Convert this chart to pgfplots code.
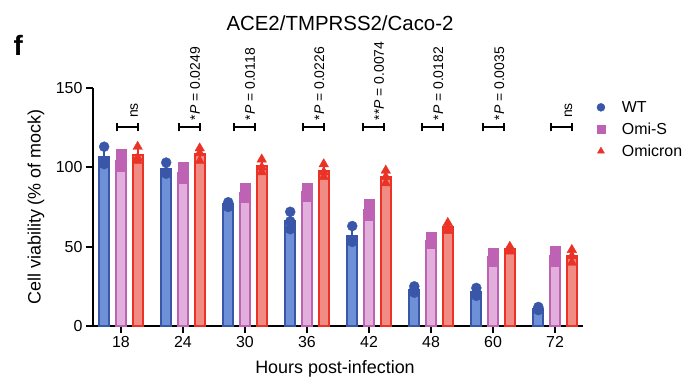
\documentclass[border=0pt]{standalone}
\usepackage{fontspec}
\setmainfont{Liberation Sans}
\usepackage{pgfplots}
\pgfplotsset{compat=1.18}
\definecolor{wtD}{HTML}{3A56A8}
\definecolor{wtL}{HTML}{6E90D6}
\definecolor{osD}{HTML}{BE62B4}
\definecolor{osL}{HTML}{E2AEDC}
\definecolor{omD}{HTML}{EA3326}
\definecolor{omL}{HTML}{F08C84}
\newcommand\brk[4]{%
  \draw[line width=2bp] (axis cs:#1,125.4) -- (axis cs:#2,125.4);
  \draw[line width=2bp] (axis cs:#1,122.6) -- (axis cs:#1,128.2);
  \draw[line width=2bp] (axis cs:#2,122.6) -- (axis cs:#2,128.2);
  \node[rotate=90, anchor=base west, inner sep=0pt, font=\fontsize{14}{16}\selectfont]
    at (axis cs:#2,#3) {#4};}
\begin{document}
\begin{tikzpicture}[x=1bp,y=1bp]
\path[use as bounding box] (0,0) rectangle (697,380);
\node[anchor=base west, font=\bfseries\fontsize{28}{30}\selectfont] at (10,325) {f};
\node[font=\fontsize{20.5}{22}\selectfont] at (340,357) {ACE2/TMPRSS2/Caco-2};
\node[font=\fontsize{18}{20}\selectfont] at (335,11) {Hours post-infection};
\node[rotate=90, font=\fontsize{18}{20}\selectfont] at (36,173) {Cell viability (\% of mock)};
\begin{axis}[
  at={(93bp,54bp)}, anchor=south west,
  scale only axis, width=490bp, height=238bp,
  xmin=-0.45, xmax=7.45, ymin=0, ymax=150,
  axis x line*=bottom, axis y line*=left,
  axis line style={line width=2bp, black},
  xtick={0,1,2,3,4,5,6,7},
  xticklabels={18,24,30,36,42,48,60,72},
  ytick={0,50,100,150},
  tick align=outside, major tick length=7bp,
  tick style={line width=2bp, black},
  tick label style={font=\fontsize{16}{18}\selectfont},
  /pgf/number format/assume math mode=true,
  clip=false,
  legend style={at={(1.026,0.95)}, anchor=north west, draw=none, fill=none,
    font=\fontsize{16}{18}\selectfont, row sep=7bp, inner sep=0pt,
    nodes={inner sep=1bp}},
  legend cell align=left,
  legend image code/.code={\path[draw=none, fill=none] (-5bp,0bp) rectangle (20bp,0bp);
     \draw[#1, mark size=4bp] plot coordinates {(0bp,0bp)};},
]
% bars (means)
\addplot[ybar, bar width=10bp, bar shift=0pt, draw=wtD, fill=wtL, line width=1.8bp, forget plot,
  error bars/.cd, y dir=both, y explicit, error bar style={line width=1.8bp, wtD}]
  coordinates {(-0.27,106.3) +- (0,5.9) (0.73,98.7) +- (0,3.8) (1.73,76.7) +- (0,1.5) (2.73,66.3) +- (0,5.5)
               (3.73,56.7) +- (0,5.5) (4.73,23) +- (0,2) (5.73,21.3) +- (0,2.5) (6.73,11) +- (0,1)};
\addplot[ybar, bar width=10bp, bar shift=0pt, draw=osD, fill=osL, line width=1.8bp, forget plot,
  error bars/.cd, y dir=both, y explicit, error bar style={line width=1.8bp, osD}]
  coordinates {(0,104.3) +- (0,3.5) (1,96.3) +- (0,3.5) (2,84) +- (0,3) (3,84.7) +- (0,2.5)
               (4,73.3) +- (0,3.5) (5,53.7) +- (0,2) (6,43.7) +- (0,2.5) (7,44.3) +- (0,3)};
\addplot[ybar, bar width=10bp, bar shift=0pt, draw=omD, fill=omL, line width=1.8bp, forget plot,
  error bars/.cd, y dir=both, y explicit, error bar style={line width=1.8bp, omD}]
  coordinates {(0.27,107.7) +- (0,4.7) (1.27,108.3) +- (0,4) (2.27,100.7) +- (0,4) (3.27,97.7) +- (0,4)
               (4.27,94) +- (0,4) (5.27,62.3) +- (0,2.5) (6.27,48.3) +- (0,1.5) (7.27,44) +- (0,4)};
% individual points
\addplot[only marks, mark=*, mark size=5bp, wtD, mark options={fill=wtD, draw=wtD}]
  coordinates {(-0.27,113) (-0.27,104) (-0.27,102)
               (0.73,103) (0.73,97) (0.73,96)
               (1.73,78) (1.73,77) (1.73,75)
               (2.73,72) (2.73,66) (2.73,61)
               (3.73,63) (3.73,54) (3.73,53)
               (4.73,25) (4.73,23) (4.73,21)
               (5.73,24) (5.73,21) (5.73,19)
               (6.73,12) (6.73,11) (6.73,10)};
\addlegendentry{WT}
\addplot[only marks, mark=square*, mark size=5bp, osD, mark options={fill=osD, draw=osD}]
  coordinates {(0,108) (0,104) (0,101)
               (1,100) (1,96) (1,93)
               (2,87) (2,84) (2,81)
               (3,87) (3,85) (3,82)
               (4,77) (4,73) (4,70)
               (5,56) (5,53) (5,52)
               (6,46) (6,44) (6,41)
               (7,47) (7,45) (7,41)};
\addlegendentry{Omi-S}
\addplot[only marks, mark=triangle*, mark size=5.5bp, omD, mark options={fill=omD, draw=omD}]
  coordinates {(0.27,113) (0.27,106) (0.27,104)
               (1.27,112) (1.27,109) (1.27,104)
               (2.27,105) (2.27,100) (2.27,97)
               (3.27,102) (3.27,97) (3.27,94)
               (4.27,98) (4.27,94) (4.27,90)
               (5.27,65) (5.27,62) (5.27,60)
               (6.27,50) (6.27,48) (6.27,47)
               (7.27,48) (7.27,44) (7.27,40)};
\addlegendentry{Omicron}
% significance brackets
\brk{-0.065}{0.275}{131}{ns}
\brk{0.935}{1.275}{129.5}{*\textit{P} = 0.0249}
\brk{1.82}{2.16}{129.5}{*\textit{P} = 0.0118}
\brk{2.935}{3.275}{129.5}{*\textit{P} = 0.0226}
\brk{3.9}{4.24}{129.5}{**\textit{P} = 0.0074}
\brk{4.855}{5.195}{129.5}{*\textit{P} = 0.0182}
\brk{5.84}{6.18}{129.5}{*\textit{P} = 0.0035}
\brk{6.935}{7.275}{131}{ns}
\end{axis}
\end{tikzpicture}
\end{document}
